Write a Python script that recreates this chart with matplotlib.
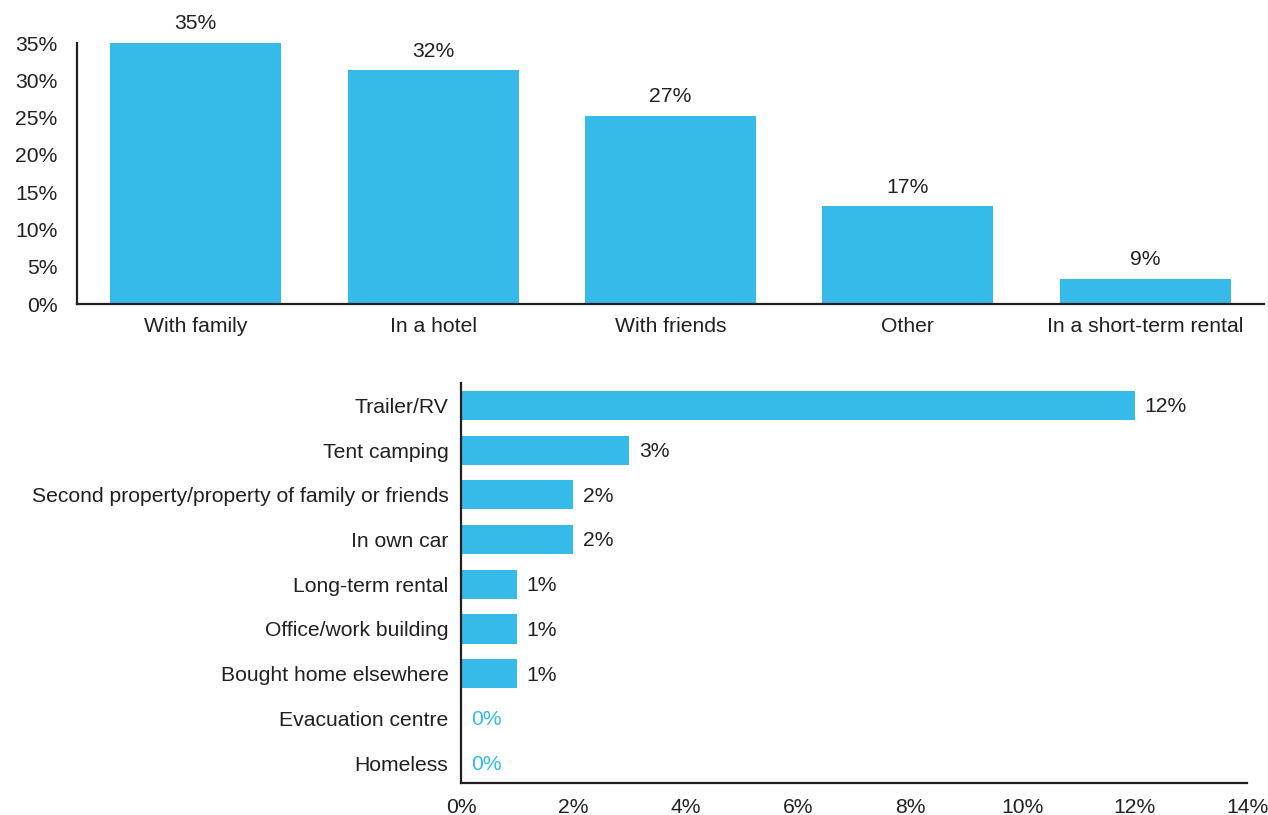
import matplotlib
matplotlib.use("Agg")
import matplotlib.pyplot as plt
import numpy as np

plt.rcParams['font.family'] = ['Liberation Sans', 'DejaVu Sans']

# ---- data ----
top_categories = ["With family", "In a hotel", "With friends", "Other", "In a short-term rental"]
top_values = [35, 32, 27, 17, 9]
top_tick_labels = ["0%", "5%", "10%", "15%", "20%", "25%", "30%", "35%"]

bottom_categories = ["Trailer/RV", "Tent camping", "Second property/property of family or friends",
                     "In own car", "Long-term rental", "Office/work building",
                     "Bought home elsewhere", "Evacuation centre", "Homeless"]
bottom_values = [12, 3, 2, 2, 1, 1, 1, 0, 0]
bottom_ticks = [0, 2, 4, 6, 8, 10, 12, 14]

BLUE = "#35BAEA"
DARK = "#231F20"
FS = 15.2

fig = plt.figure(figsize=(12.68, 8.15), dpi=100)

# ---- top chart ----
ax1 = fig.add_axes([77/1268, 1-304/815, (1264-77)/1268, 261/815])
x = np.arange(len(top_categories))
ax1.bar(x, top_values, width=0.72, color=BLUE, zorder=2)
ybase, ytop = 6.25, 35
ax1.set_ylim(ybase, ytop)
ax1.set_xlim(-0.5, len(top_categories) - 0.5)
ax1.set_yticks(np.linspace(ybase, ytop, len(top_tick_labels)))
ax1.set_yticklabels(top_tick_labels)
ax1.set_xticks(x)
ax1.set_xticklabels(top_categories)
for xi, v in zip(x, top_values):
    ax1.annotate(f"{v}%", (xi, v), xytext=(0, 7), textcoords="offset points",
                 ha="center", va="bottom", fontsize=FS, color=DARK)
ax1.tick_params(axis="y", length=0, pad=14, labelsize=FS, labelcolor=DARK)
ax1.tick_params(axis="x", length=0, pad=9.5, labelsize=FS, labelcolor=DARK)
for s in ["top", "right"]:
    ax1.spines[s].set_visible(False)
for s in ["left", "bottom"]:
    ax1.spines[s].set_color(DARK)
    ax1.spines[s].set_linewidth(1.6)

# ---- bottom chart ----
ax2 = fig.add_axes([461/1268, 1-783/815, 786/1268, 400/815])
y = np.arange(len(bottom_categories))
ax2.barh(y, bottom_values, height=0.65, color=BLUE, zorder=2)
ax2.set_ylim(8.445, -0.503)
ax2.set_xlim(0, 14)
ax2.set_xticks(bottom_ticks)
ax2.set_xticklabels([f"{t}%" for t in bottom_ticks])
ax2.set_yticks(y)
ax2.set_yticklabels(bottom_categories)
for yi, v in zip(y, bottom_values):
    ax2.annotate(f"{v}%", (v, yi), xytext=(7, -1), textcoords="offset points",
                 ha="left", va="center", fontsize=FS,
                 color=(BLUE if v == 0 else DARK))
ax2.tick_params(axis="y", length=0, pad=9, labelsize=FS, labelcolor=DARK)
ax2.tick_params(axis="x", length=0, pad=10.5, labelsize=FS, labelcolor=DARK)
for s in ["top", "right"]:
    ax2.spines[s].set_visible(False)
for s in ["left", "bottom"]:
    ax2.spines[s].set_color(DARK)
    ax2.spines[s].set_linewidth(1.6)

fig.savefig("out.png", dpi=100)
